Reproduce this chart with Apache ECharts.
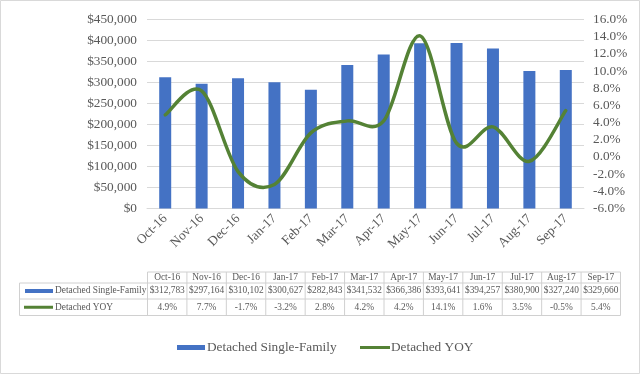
<!DOCTYPE html>
<html><head><meta charset="utf-8">
<script src="https://cdn.jsdelivr.net/npm/echarts@6/dist/echarts.min.js"></script>
<style>html,body{margin:0;padding:0;background:#fff}#c{width:640px;height:374px}</style>
</head><body><div id="c"></div>
<script>
const categories = ['Oct-16','Nov-16','Dec-16','Jan-17','Feb-17','Mar-17','Apr-17','May-17','Jun-17','Jul-17','Aug-17','Sep-17'];
const singleFamily = [312783,297164,310102,300627,282843,341532,366386,393641,394257,380900,327240,329660];
const yoy = [4.9,7.7,-1.7,-3.2,2.8,4.2,4.2,14.1,1.6,3.5,-0.5,5.4];
const seriesNames = ['Detached Single-Family','Detached YOY'];

const FONT = '"Liberation Serif","Times New Roman",serif';
const GRAY = '#595959';
const BLUE = '#4472C4';
const GREEN = '#548235';
const fmtMoney = v => '$' + v.toLocaleString('en-US');
const fmtPct = v => v.toFixed(1) + '%';

// table graphics
const tL = 19.5, tC = 147.5, tR = 620.5, colW = (tR - tC) / categories.length;
const rows = [272, 283, 299, 315.5];
const lineCol = '#D0D0D0';
const g = [];
g.push({type:'rect', shape:{x:0.5,y:0.5,width:639,height:373}, style:{fill:'none', stroke:'#D9D9D9', lineWidth:1}, silent:true});
function hline(x1,x2,y){ g.push({type:'line', shape:{x1:x1,y1:y,x2:x2,y2:y}, style:{stroke:lineCol, lineWidth:1}, silent:true}); }
function vline(x,y1,y2){ g.push({type:'line', shape:{x1:x,y1:y1,x2:x,y2:y2}, style:{stroke:lineCol, lineWidth:1}, silent:true}); }
hline(tC, tR, rows[0]);
hline(tL, tR, rows[1]);
hline(tL, tR, rows[2]);
hline(tL, tR, rows[3]);
vline(tL, rows[1], rows[3]);
for (let i = 0; i <= categories.length; i++) vline(tC + i*colW, rows[0], rows[3]);
function txt(x,y,s,align){ g.push({type:'text', x:x, y:y, style:{text:s, fill:GRAY, font:'9.4px ' + FONT, align:align||'center', verticalAlign:'middle'}, silent:true}); }
categories.forEach((c,i)=>{
  const cx = tC + (i+0.5)*colW;
  txt(cx, (rows[0]+rows[1])/2, c);
  txt(cx, (rows[1]+rows[2])/2, fmtMoney(singleFamily[i]));
  txt(cx, (rows[2]+rows[3])/2, fmtPct(yoy[i]));
});
g.push({type:'rect', shape:{x:25,y:(rows[1]+rows[2])/2-2,width:28,height:4}, style:{fill:BLUE}, silent:true});
txt(55, (rows[1]+rows[2])/2, seriesNames[0], 'left');
g.push({type:'rect', shape:{x:24,y:(rows[2]+rows[3])/2-1.5,width:29,height:3}, style:{fill:GREEN}, silent:true});
txt(55, (rows[2]+rows[3])/2, seriesNames[1], 'left');

// Excel-like (Catmull-Rom) smooth line drawn through axis coordinates
function renderSmooth(params, api) {
  if (params.dataIndex !== 0) return null;
  const pts = yoy.map((v, i) => api.coord([i, v]));
  const n = pts.length;
  const P = i => pts[Math.max(0, Math.min(n - 1, i))];
  const segs = [['M', pts[0][0], pts[0][1]]];
  let d = 'M' + pts[0][0] + ',' + pts[0][1];
  for (let i = 0; i < n - 1; i++) {
    const p0 = P(i - 1), p1 = P(i), p2 = P(i + 1), p3 = P(i + 2);
    const c1 = [p1[0] + (p2[0] - p0[0]) / 6, p1[1] + (p2[1] - p0[1]) / 6];
    const c2 = [p2[0] - (p3[0] - p1[0]) / 6, p2[1] - (p3[1] - p1[1]) / 6];
    d += ' C' + c1[0] + ',' + c1[1] + ' ' + c2[0] + ',' + c2[1] + ' ' + p2[0] + ',' + p2[1];
  }
  return {
    type: 'path',
    shape: {pathData: d},
    style: {fill: 'none', stroke: GREEN, lineWidth: 3.5, lineCap: 'round', lineJoin: 'round'},
    z2: 10
  };
}

const chart = echarts.init(document.getElementById('c'), null, {renderer:'canvas'});
chart.setOption({
  animation: false,
  backgroundColor: '#fff',
  textStyle: {fontFamily: FONT},
  grid: {left: 147, right: 56, top: 19.5, bottom: 165.5, containLabel: false},
  legend: [
    {data:[{name:seriesNames[0], icon:'rect'}], left:172, top:336, itemWidth:28, itemHeight:5, itemGap:3,
     textStyle:{fontFamily:FONT, fontSize:13.3, color:GRAY, padding:[0,0,0,-3]}},
    {data:[{name:seriesNames[1], icon:'rect'}], left:355, top:336, itemWidth:30, itemHeight:3, itemGap:3,
     textStyle:{fontFamily:FONT, fontSize:13.3, color:GRAY, padding:[0,0,0,-4]}}
  ],
  xAxis: {
    type: 'category', data: categories,
    axisLine: {show: true, lineStyle: {color: '#D9D9D9'}},
    axisTick: {show: false},
    axisLabel: {rotate: 45, margin: 8, color: GRAY, fontFamily: FONT, fontSize: 13.3, interval: 0}
  },
  yAxis: [
    {type:'value', min:0, max:450000, interval:50000,
     axisLabel:{formatter: v => fmtMoney(v), color:GRAY, fontFamily:FONT, fontSize:13.3, margin:10},
     splitLine:{lineStyle:{color:'#D9D9D9', width:1}},
     axisLine:{show:false}, axisTick:{show:false}},
    {type:'value', min:-6, max:16, interval:2,
     axisLabel:{formatter: v => fmtPct(v), color:GRAY, fontFamily:FONT, fontSize:13.3, margin:9},
     splitLine:{show:false}, axisLine:{show:false}, axisTick:{show:false}}
  ],
  series: [
    {name: seriesNames[0], type:'bar', data: singleFamily, yAxisIndex:0, barWidth:12, itemStyle:{color:BLUE}},
    {name: seriesNames[1], type:'custom', data: yoy.map((v,i)=>[i,v]), yAxisIndex:1,
     renderItem: renderSmooth, itemStyle:{color:GREEN}, encode:{x:0, y:1}, z:3, clip:false}
  ],
  graphic: g
});
</script></body></html>
